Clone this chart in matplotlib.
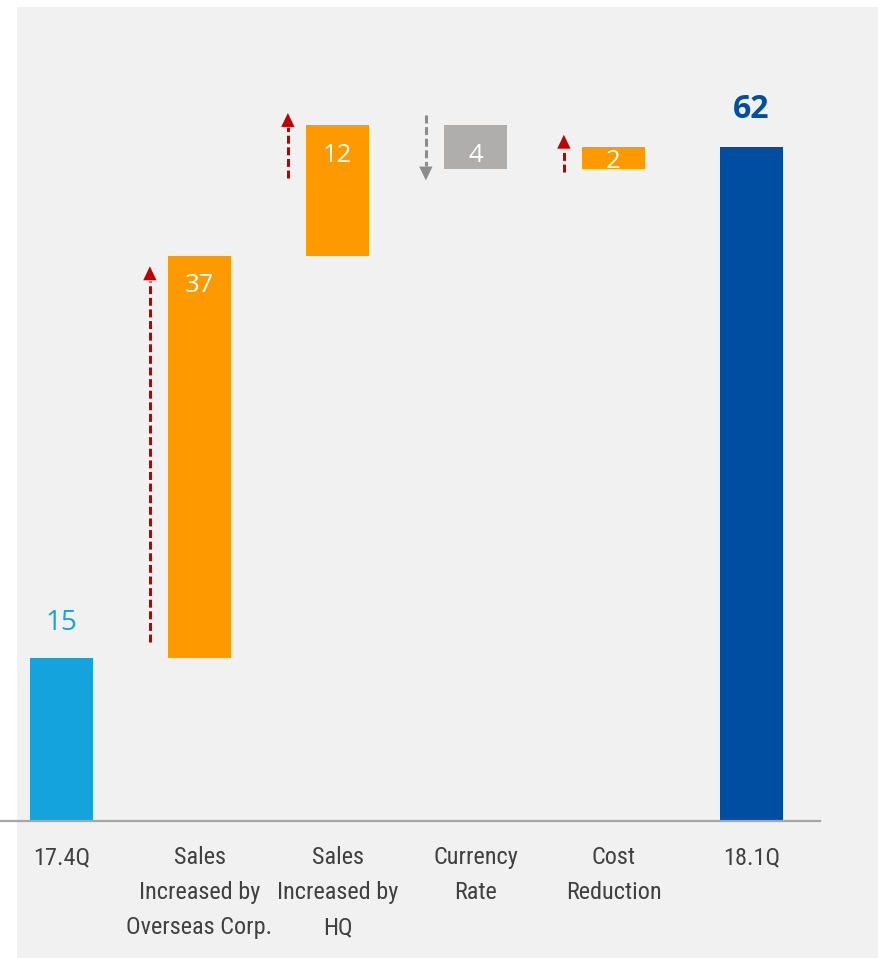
import matplotlib
matplotlib.use("Agg")
import matplotlib.pyplot as plt
from matplotlib.patches import Rectangle

# data
categories = ["17.4Q", "Sales\nIncreased by\nOverseas Corp.", "Sales\nIncreased by\nHQ",
              "Currency\nRate", "Cost\nReduction", "18.1Q"]
start_value = 15
changes = [37, 12, -4, 2]
end_value = 62

c_start = "#14a3dc"
c_end = "#004ea2"
c_up = "#ff9900"
c_down = "#b0aeac"
c_arrow_up = "#c00000"
c_arrow_down = "#8c8c8c"
num_font = ["Open Sans", "DejaVu Sans"]

fig = plt.figure(figsize=(8.79, 9.58), dpi=100)
fig.patches.append(Rectangle((17 / 879, 0), 861 / 879, 951 / 958, transform=fig.transFigure,
                             facecolor="#f1f1f1", edgecolor="none", zorder=-1))

ax = fig.add_axes([0, 137 / 958, 820 / 879, 783 / 958])
ax.set_facecolor("none")
w = 0.457

# totals
ax.bar(0, start_value, width=w, color=c_start, zorder=2)
ax.bar(5, end_value, width=w, color=c_end, zorder=2)
ax.text(0, start_value + 1.9, str(start_value), ha="center", va="bottom", fontsize=20,
        color=c_start, family=num_font)
ax.text(5, end_value + 1.9, str(end_value), ha="center", va="bottom", fontsize=23,
        color=c_end, family=num_font, fontweight="bold")

# steps
level = start_value
for i, ch in enumerate(changes, start=1):
    lo, hi = min(level, level + ch), max(level, level + ch)
    col = c_up if ch > 0 else c_down
    ax.bar(i, hi - lo, bottom=lo, width=w, color=col, zorder=2)
    h = hi - lo
    ax.text(i, hi - min(2.8, h * 0.7), str(abs(ch)), ha="center", va="center",
            fontsize=18.5, color="white", family=num_font, zorder=3)
    d = 1 if ch > 0 else -1
    end = level + ch
    if h > 20:
        a0, a1 = level + 1.5, end - 1.0
    else:
        tip = end + 1.1 * d
        L = min(6.0, h * 1.7)
        a0, a1 = tip - L * d, tip
    acol = c_arrow_up if ch > 0 else c_arrow_down
    x = i - 0.36
    ax.plot([x, x], [a0, a1 - 1.3 * d], color=acol, lw=2.2, ls=(0, (2.6, 1.2)), zorder=2)
    ax.annotate("", xy=(x, a1), xytext=(x, a1 - 1.5 * d),
                arrowprops=dict(arrowstyle="-|>,head_length=1.0,head_width=0.48",
                                color=acol, lw=0, shrinkA=0, shrinkB=0))
    level = end

ax.set_xlim(-0.446, 5.496)
ax.set_ylim(0, 72)
ax.set_xticks(range(len(categories)))
ax.set_xticklabels(categories, fontsize=17.5, color="#404040",
                   family=["Roboto Condensed", "Liberation Sans Narrow", "Roboto", "DejaVu Sans"],
                   linespacing=1.68)
ax.tick_params(axis="x", length=0, pad=18)
ax.set_yticks([])
for s in ["top", "right", "left"]:
    ax.spines[s].set_visible(False)
ax.spines["bottom"].set_color("#a6a6a6")
ax.spines["bottom"].set_linewidth(1.6)

fig.savefig("out.png", dpi=100, facecolor="white")
